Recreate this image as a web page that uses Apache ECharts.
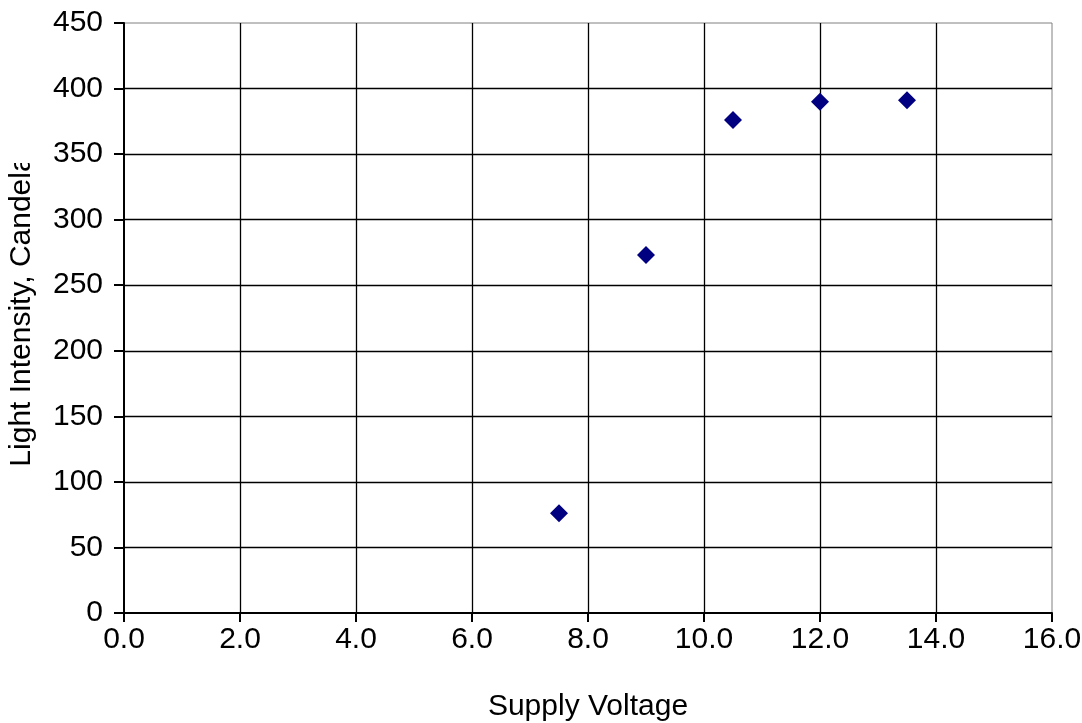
<!DOCTYPE html>
<html>
<head>
<meta charset="utf-8">
<script src="https://cdn.jsdelivr.net/npm/echarts@6/dist/echarts.min.js"></script>
<style>
  html, body { margin: 0; padding: 0; background: #fff; }
  #chart { width: 1082px; height: 723px; }
</style>
</head>
<body>
<div id="chart"></div>
<script>
// Measured lamp output against supply voltage
const supplyVoltage = [7.5, 9.0, 10.5, 12.0, 13.5];
const lightIntensity = [76, 273, 376, 390, 391];

const xTitle = 'Supply Voltage';
const yTitle = 'Light Intensity, Candela';

const FONT = '"Liberation Sans", Arial, sans-serif';

const points = supplyVoltage.map((v, i) => [v, lightIntensity[i]]);

const chart = echarts.init(document.getElementById('chart'), null, { renderer: 'canvas' });

chart.setOption({
  backgroundColor: '#ffffff',
  animation: false,
  grid: {
    left: 124, right: 30, top: 23, bottom: 110,
    containLabel: false, outerBoundsMode: 'none',
    show: true, borderColor: '#808080', borderWidth: 1, backgroundColor: 'transparent'
  },
  xAxis: {
    type: 'value', min: 0, max: 16, interval: 2,
    name: xTitle, nameLocation: 'middle', nameGap: 79,
    nameTextStyle: { fontFamily: FONT, fontSize: 30, color: '#000' },
    axisLine: { show: true, onZero: false, lineStyle: { color: '#000', width: 2 } },
    axisTick: { show: true, inside: false, length: 9, lineStyle: { color: '#000', width: 2 } },
    axisLabel: {
      margin: 12, fontFamily: FONT, fontSize: 30, color: '#000',
      formatter: v => v.toFixed(1)
    },
    splitLine: { show: true, showMinLine: false, showMaxLine: false, lineStyle: { color: '#000', width: 1.3 } }
  },
  yAxis: {
    type: 'value', min: 0, max: 450, interval: 50,
    axisLine: { show: true, onZero: false, lineStyle: { color: '#000', width: 2 } },
    axisTick: { show: true, inside: false, length: 10, lineStyle: { color: '#000', width: 2 } },
    axisLabel: { margin: 21, fontFamily: FONT, fontSize: 30, color: '#000' },
    splitLine: { show: true, showMinLine: false, showMaxLine: false, lineStyle: { color: '#000', width: 1.3 } }
  },
  graphic: [
    {
      type: 'text', z: 10,
      x: 22, y: 311, rotation: Math.PI / 2,
      style: {
        text: yTitle, fontFamily: FONT, fontSize: 30, fill: '#000',
        align: 'center', verticalAlign: 'middle'
      }
    },
    {
      // the title runs past the top of its box and is cut there
      type: 'rect', z: 11,
      shape: { x: 0, y: 0, width: 45, height: 163 },
      style: { fill: '#ffffff' }
    }
  ],
  series: [{
    type: 'scatter',
    data: points,
    symbol: 'diamond',
    symbolSize: 18,
    itemStyle: { color: '#000080', opacity: 1 }
  }]
});
</script>
</body>
</html>
